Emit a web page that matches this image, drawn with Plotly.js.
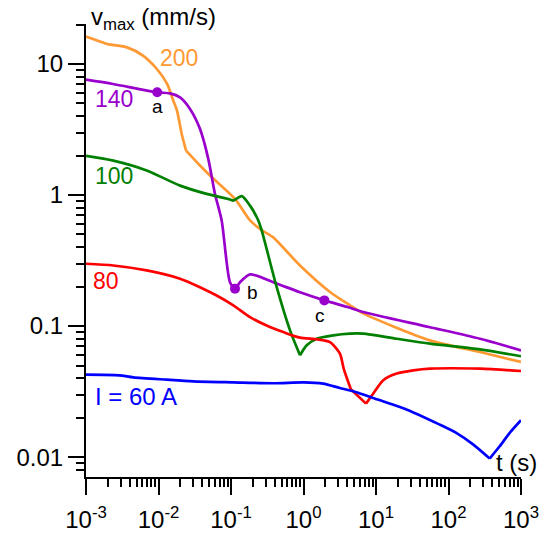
<!DOCTYPE html>
<html>
<head>
<meta charset="utf-8">
<script src="https://cdn.plot.ly/plotly-3.0.1.min.js"></script>
<style>html,body{margin:0;padding:0;background:#fff}#chart{width:546px;height:533px}</style>
</head>
<body>
<div id="chart"></div>
<script>
// ---- data (t in s, v in mm/s) ----
const t200 = [0.001,0.00195,0.00368,0.0061,0.0095,0.0131,0.0160,0.018,0.0209,0.024,0.0373,0.0513,0.1135,0.183,0.268,0.379,0.895,2.32,4.38,6.62,55.6,272,1000];
const v200 = [16.2,14.2,13.4,11.6,9.16,7.08,5.25,4.4,2.92,2.18,1.68,1.41,0.935,0.64,0.537,0.477,0.29,0.182,0.144,0.125,0.0778,0.0634,0.0532];

const t140 = [0.001,0.00235,0.0096,0.0144,0.0198,0.0272,0.0373,0.0486,0.0601,0.0743,0.0968,0.1135,0.133,0.183,0.383,0.895,1.94,4.38,6.62,55.6,272,1000];
const v140 = [7.59,7.04,6.08,5.97,5.56,4.54,3.2,1.89,1.02,0.64,0.216,0.193,0.216,0.248,0.216,0.181,0.157,0.138,0.128,0.098,0.080,0.0653];

const t100 = [0.001,0.00238,0.00687,0.0198,0.0462,0.0968,0.1076,0.1406,0.183,0.238,0.265,0.427,0.652,0.895,1.107,1.52,2.58,4.38,6.68,19.3,55.6,272,1000];
const v100 = [1.99,1.83,1.54,1.18,1.02,0.925,0.908,0.98,0.83,0.64,0.537,0.198,0.0927,0.0598,0.0713,0.080,0.085,0.0875,0.0875,0.080,0.0734,0.0664,0.0588];

const t80 = [0.001,0.00238,0.00687,0.0198,0.0373,0.0634,0.1076,0.183,0.31,0.527,0.895,1.52,2.32,3.18,3.6,4.5,7.28,9.18,12.6,19.3,32.7,55.6,272,1000];
const v80 = [0.299,0.29,0.266,0.23,0.198,0.171,0.144,0.117,0.101,0.090,0.0816,0.0793,0.0755,0.0617,0.047,0.033,0.0256,0.0306,0.0386,0.0434,0.0459,0.0473,0.0473,0.0454];

const t60 = [0.001,0.00288,0.0045,0.013,0.0302,0.1076,0.384,1.007,1.86,3.16,5.36,9.1,26.2,75.7,128,218,370,508,698,1000];
const v60 = [0.0426,0.0421,0.0406,0.039,0.0379,0.0372,0.0366,0.0372,0.0364,0.0337,0.0313,0.0283,0.0231,0.0177,0.0153,0.0125,0.00975,0.0121,0.0153,0.0191];

const ptT = [0.0096, 0.1135, 1.94];
const ptV = [6.08, 0.193, 0.157];
const ptLabel = ['a', 'b', 'c'];

const seriesNames = ['200', '140', '100', '80', 'I = 60 A'];
const xTickVals = [1e-3,1e-2,1e-1,1,10,100,1000];
const xTickText = ['10<sup>-3</sup>','10<sup>-2</sup>','10<sup>-1</sup>','10<sup>0</sup>','10<sup>1</sup>','10<sup>2</sup>','10<sup>3</sup>'];
const yTickVals = [0.01,0.1,1,10];
const yTickText = ['0.01','0.1','1','10'];

// ---- styling ----
const C = {o:'#ff9933', p:'#9900cc', g:'#008000', r:'#ff0000', b:'#0000ff'};
const LW = 2.7;
const FONT = 'Liberation Sans, Arial, sans-serif';

function minorVals(lo, hi) {
  const out = [];
  for (let e = lo; e <= hi; e++) for (let m = 2; m <= 9; m++) out.push(m * Math.pow(10, e));
  return out;
}
const xMinor = minorVals(-3, 2);
const yMinor = [0.008, 0.009].concat(minorVals(-2, 0), [20]);

const L = 86, R = 25, T = 24, B = 56, W = 546, H = 533;
const pw = W - L - R, ph = H - T - B;
const px = x => (x - L) / pw;
const py = y => (H - B - y) / ph;

// draw each series as smooth pieces, split at sharp corners (indices)
function pieces(xs, ys, corners, color) {
  const cuts = [0].concat(corners, [xs.length - 1]);
  const out = [];
  for (let i = 0; i < cuts.length - 1; i++) {
    out.push({x: xs.slice(cuts[i], cuts[i+1] + 1), y: ys.slice(cuts[i], cuts[i+1] + 1),
      mode:'lines', line:{color, width:LW, shape:'spline', smoothing:0.7}, hoverinfo:'skip'});
  }
  return out;
}

const traces = [].concat(
  pieces(t200, v200, [1, 9], C.o),
  pieces(t140, v140, [], C.p),
  pieces(t100, v100, [13], C.g),
  pieces(t80, v80, [15, 16], C.r),
  pieces(t60, v60, [16], C.b),
  [{x:ptT, y:ptV, mode:'markers', marker:{color:C.p, size:10}}]
);

const lab = (text, x, y, color, size, anchor) => ({
  text, xref:'paper', yref:'paper', x:px(x), y:py(y), showarrow:false,
  xanchor: anchor || 'center', yanchor:'middle', font:{family:FONT, size:size, color:color}
});

const annotations = [
  lab(seriesNames[0], 179, 58, C.o, 23),
  lab(seriesNames[1], 114, 99, C.p, 23),
  lab(seriesNames[2], 114, 176, C.g, 23),
  lab(seriesNames[3], 106, 281, C.r, 23),
  lab(seriesNames[4], 136, 396, C.b, 24),
  lab(ptLabel[0], 157, 106, '#000', 19),
  lab(ptLabel[1], 252, 293, '#000', 19),
  lab(ptLabel[2], 320, 315, '#000', 19),
  lab('v<sub>max</sub> (mm/s)', 89, 19, '#000', 24, 'left'),
  lab('t (s)', 516, 462, '#000', 24)
];

const axisCommon = {
  type:'log', showgrid:false, zeroline:false, showline:true, linewidth:2, linecolor:'#000',
  ticks:'outside', ticklen:16, tickwidth:2, tickcolor:'#000',
  tickfont:{family:FONT, size:24, color:'#000'},
  minor:{ticks:'outside', ticklen:8, tickwidth:2, tickcolor:'#000', showgrid:false}
};

const layout = {
  width:W, height:H, margin:{l:L, r:R, t:T, b:B, pad:0},
  paper_bgcolor:'#fff', plot_bgcolor:'#fff', showlegend:false,
  xaxis: Object.assign({}, axisCommon, {range:[-3, 3], tickmode:'array', tickvals:xTickVals, ticktext:xTickText,
    ticklabelstandoff:4, minor:Object.assign({}, axisCommon.minor, {tickvals:xMinor})}),
  yaxis: Object.assign({}, axisCommon, {range:[Math.log10(0.00705), Math.log10(20.2)], tickmode:'array', tickvals:yTickVals, ticktext:yTickText,
    minor:Object.assign({}, axisCommon.minor, {tickvals:yMinor})}),
  annotations
};

Plotly.newPlot('chart', traces, layout, {staticPlot:true, displayModeBar:false});
</script>
</body>
</html>
